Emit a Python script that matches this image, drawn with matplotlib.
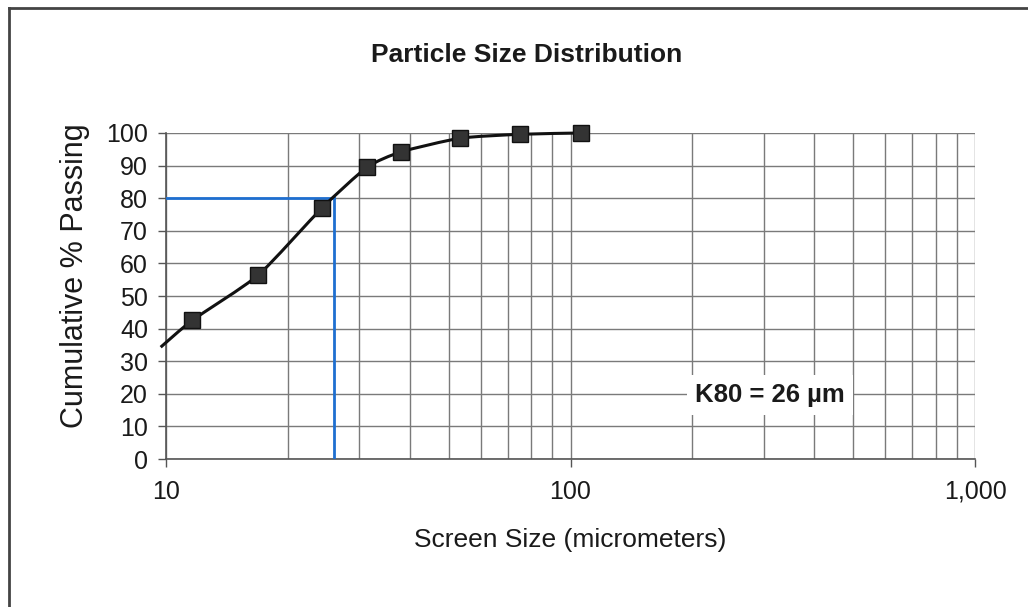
import numpy as np
import matplotlib
matplotlib.use("Agg")
import matplotlib.pyplot as plt
from matplotlib.path import Path
from matplotlib.patches import PathPatch
from matplotlib.ticker import FixedLocator, FixedFormatter, LogLocator, NullFormatter
from matplotlib.lines import Line2D

plt.rcParams["font.family"] = ["Liberation Sans", "DejaVu Sans"]

# data
screen_size = [11.6, 16.9, 24.3, 31.4, 38.1, 53.3, 75.0, 106.0]
passing = [42.5, 56.4, 77.0, 89.5, 94.2, 98.4, 99.6, 100.0]
lead_size = 9.7  # curve starts just left of the axis
lead_passing = 34.3
k80_size = 26
k80_value = 80
xtick_values = [10, 100, 1000]
xtick_labels = ["10", "100", "1,000"]
ytick_values = list(range(0, 101, 10))


def smooth_path(xs, ys, t=0.1):
    """Lightly smoothed path through the points (like Excel smoothed line), in log-x space."""
    lx = np.log10(xs)
    ly = np.array(ys, dtype=float)
    n = len(lx)
    verts = [(xs[0], ys[0])]
    codes = [Path.MOVETO]
    for i in range(n - 1):
        p0 = max(i - 1, 0)
        p3 = min(i + 2, n - 1)
        c1x = lx[i] + (lx[i + 1] - lx[p0]) * t
        c1y = ly[i] + (ly[i + 1] - ly[p0]) * t
        c2x = lx[i + 1] - (lx[p3] - lx[i]) * t
        c2y = ly[i + 1] - (ly[p3] - ly[i]) * t
        verts += [(10 ** c1x, c1y), (10 ** c2x, c2y), (xs[i + 1], ys[i + 1])]
        codes += [Path.CURVE4] * 3
    return Path(verts, codes)


fig = plt.figure(figsize=(10.28, 6.07), dpi=100)
ax = fig.add_axes([0.1615, 0.2438, 0.787, 0.5371])

ax.set_xscale("log")
ax.set_xlim(10, 1000)
ax.set_ylim(0, 100)

# grid
ax.xaxis.set_major_locator(FixedLocator(xtick_values))
ax.xaxis.set_major_formatter(FixedFormatter(xtick_labels))
ax.xaxis.set_minor_locator(LogLocator(base=10, subs=np.arange(2, 10)))
ax.xaxis.set_minor_formatter(NullFormatter())
ax.yaxis.set_major_locator(FixedLocator(ytick_values))
ax.grid(True, which="both", color="#7a7a7a", linewidth=1.0)
ax.set_axisbelow(True)

for side in ["top", "right"]:
    ax.spines[side].set_visible(False)
for side in ["left", "bottom"]:
    ax.spines[side].set_color("#555555")
    ax.spines[side].set_linewidth(1.2)

ax.tick_params(axis="both", which="major", direction="out", length=6,
               width=1, color="#555555", labelsize=18, labelcolor="#1a1a1a")
ax.tick_params(axis="x", which="major", pad=9)
ax.tick_params(axis="y", which="major", pad=7)
ax.tick_params(axis="x", which="minor", length=0)

# K80 guide lines
ax.plot([10, k80_size], [k80_value, k80_value], color="#1e6fd0", linewidth=2, zorder=3)
ax.plot([k80_size, k80_size], [0, k80_value], color="#1e6fd0", linewidth=2, zorder=3)

# smoothed curve + markers
all_x = [lead_size] + screen_size
all_y = [lead_passing] + passing
curve = PathPatch(smooth_path(all_x, all_y), facecolor="none", edgecolor="#111111",
                  linewidth=2.2, zorder=4, transform=ax.transData, clip_on=False)
ax.add_patch(curve)
ax.plot(screen_size, passing, linestyle="none", marker="s", markersize=11,
        markerfacecolor="#333333", markeredgecolor="#111111", zorder=5, clip_on=False)

ax.text(0.7466, 0.196, "K80 = 26 \u00b5m", transform=ax.transAxes, fontsize=18.5,
        fontweight="bold", color="#1a1a1a", ha="center", va="center", zorder=6,
        bbox=dict(boxstyle="square,pad=0.3", facecolor="white", edgecolor="none"))

ax.set_xlabel("Screen Size (micrometers)", fontsize=19, color="#1a1a1a")
ax.xaxis.set_label_coords(0.5, -0.248)
ax.xaxis.label.set_va("center")
ax.set_ylabel("Cumulative % Passing", fontsize=22, color="#1a1a1a")
ax.yaxis.set_label_coords(-0.1125, 0.561)
ax.yaxis.label.set_va("center")

fig.text(0.5126, 0.9094, "Particle Size Distribution", fontsize=19, fontweight="bold",
         ha="center", va="center", color="#1a1a1a")

# outer frame (left and top edges only visible)
fig.add_artist(Line2D([9 / 1028, 9 / 1028], [0, 1 - 8 / 607], color="#444444", linewidth=2))
fig.add_artist(Line2D([9 / 1028, 1], [1 - 8 / 607, 1 - 8 / 607], color="#444444", linewidth=2))

fig.savefig("out.png", dpi=100)
